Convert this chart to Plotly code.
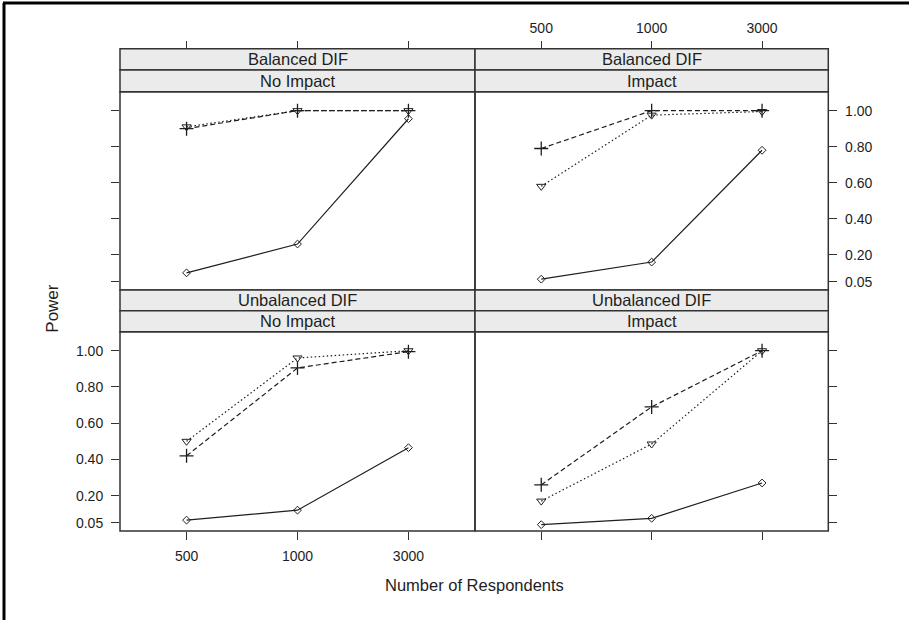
import plotly.graph_objects as go

W, H = 909, 620

# ---- data ----
sizes = ["500", "1000", "3000"]
dif_types = ["Balanced DIF", "Balanced DIF", "Unbalanced DIF", "Unbalanced DIF"]
impact_types = ["No Impact", "Impact", "No Impact", "Impact"]

# solid line, diamond markers
series_a = [
    [0.10, 0.26, 0.955],
    [0.065, 0.16, 0.78],
    [0.065, 0.12, 0.465],
    [0.04, 0.075, 0.27],
]
# dashed line, plus markers
series_b = [
    [0.90, 1.00, 1.00],
    [0.79, 1.00, 1.00],
    [0.42, 0.905, 0.995],
    [0.26, 0.69, 1.00],
]
# dotted line, triangle markers
series_c = [
    [0.91, 1.00, 1.00],
    [0.58, 0.975, 0.995],
    [0.50, 0.96, 1.00],
    [0.17, 0.485, 1.00],
]
y_tickvals = [0.05, 0.20, 0.40, 0.60, 0.80, 1.00]
y_ticktext = ["0.05", "0.20", "0.40", "0.60", "0.80", "1.00"]

# ---- layout geometry (pixels) ----
def px(x):
    return x / W

def py(y):
    return 1 - y / H

col_x = [(120, 475), (475, 828.3)]
row_plot = [(91.7, 290), (331.7, 531)]
row_strip = [(48.7, 70, 91.7), (290, 310.7, 331.7)]

FONT = "Liberation Sans, Arial, sans-serif"
INK = "#1e1e1e"
FRAME = "#333333"
TICKFONT = dict(size=14, color=INK, family=FONT)

fig = go.Figure()
layout = dict(
    width=W, height=H,
    margin=dict(l=0, r=0, t=0, b=0),
    paper_bgcolor="white", plot_bgcolor="white",
    showlegend=False,
    font=dict(family=FONT, color=INK, size=14),
)
shapes = []
annotations = []

for i in range(4):
    r, c = divmod(i, 2)
    n = i + 1
    xa = "x" if n == 1 else f"x{n}"
    ya = "y" if n == 1 else f"y{n}"
    xkey = "xaxis" if n == 1 else f"xaxis{n}"
    ykey = "yaxis" if n == 1 else f"yaxis{n}"
    x0, x1 = col_x[c]
    y0, y1 = row_plot[r]

    common = dict(xaxis=xa, yaxis=ya, mode="lines+markers", hoverinfo="skip")
    fig.add_trace(go.Scatter(x=sizes, y=series_b[i],
                             line=dict(color=INK, width=1.2, dash="5px,3px"),
                             marker=dict(symbol="cross-thin", size=10,
                                         line=dict(color=INK, width=1.3)),
                             **common))
    fig.add_trace(go.Scatter(x=sizes, y=series_c[i],
                             line=dict(color=INK, width=1.2, dash="1.5px,2.5px"),
                             marker=dict(symbol="triangle-down-open", size=8,
                                         color=INK, line=dict(color=INK, width=1)),
                             **common))
    fig.add_trace(go.Scatter(x=sizes, y=series_a[i],
                             line=dict(color=INK, width=1.2),
                             marker=dict(symbol="diamond-open", size=6,
                                         color=INK, line=dict(color=INK, width=1)),
                             **common))

    # x axis
    xa_cfg = dict(domain=[px(x0), px(x1)], type="category", range=[-0.6, 2.6],
                  showgrid=False, zeroline=False, showline=False,
                  ticks="outside", ticklen=8, tickwidth=1.3, tickcolor=FRAME,
                  tickfont=TICKFONT, fixedrange=True)
    if r == 0:
        xa_cfg.update(anchor="free", position=py(row_strip[0][0]), side="top",
                      showticklabels=(c == 1), ticklabelstandoff=2)
    else:
        xa_cfg.update(anchor=ya, side="bottom", showticklabels=(c == 0),
                      ticklabelstandoff=4)
    layout[xkey] = xa_cfg

    # y axis
    ya_cfg = dict(domain=[py(y1), py(y0)], range=[0.005, 1.105],
                  tickvals=y_tickvals, ticktext=y_ticktext,
                  showgrid=False, zeroline=False, showline=False,
                  ticks="outside", ticklen=8, tickwidth=1.3, tickcolor=FRAME,
                  tickfont=TICKFONT, anchor=xa, fixedrange=True,
                  ticklabelstandoff=5)
    if r == 0:
        ya_cfg.update(side="left" if c == 0 else "right", showticklabels=(c == 1))
    else:
        ya_cfg.update(side="left" if c == 0 else "right", showticklabels=(c == 0))
    layout[ykey] = ya_cfg

    # panel border
    shapes.append(dict(type="rect", xref="paper", yref="paper",
                       x0=px(x0), x1=px(x1), y0=py(y1), y1=py(y0),
                       line=dict(color=FRAME, width=1.5), layer="above"))
    # strips
    s0, s1, s2 = row_strip[r]
    for (ta, tb, txt) in [(s0, s1, dif_types[i]), (s1, s2, impact_types[i])]:
        shapes.append(dict(type="rect", xref="paper", yref="paper",
                           x0=px(x0), x1=px(x1), y0=py(tb), y1=py(ta),
                           fillcolor="#ebebeb", line=dict(color=FRAME, width=1.5),
                           layer="above"))
        annotations.append(dict(text=txt, xref="paper", yref="paper",
                                x=px((x0 + x1) / 2), y=py((ta + tb) / 2),
                                xanchor="center", yanchor="middle", showarrow=False,
                                font=dict(size=16.5, color=INK, family=FONT)))

# axis titles
annotations.append(dict(text="Number of Respondents", xref="paper", yref="paper",
                        x=px(474), y=py(585), xanchor="center", yanchor="middle",
                        showarrow=False, font=dict(size=16.5, color=INK, family=FONT)))
annotations.append(dict(text="Power", xref="paper", yref="paper",
                        x=px(51.7), y=py(308), xanchor="center", yanchor="middle",
                        textangle=-90, showarrow=False,
                        font=dict(size=17, color=INK, family=FONT)))

# outer frame (top and left edges)
shapes.append(dict(type="line", xref="paper", yref="paper",
                   x0=px(3), x1=1, y0=py(3), y1=py(3),
                   line=dict(color="black", width=3)))
shapes.append(dict(type="line", xref="paper", yref="paper",
                   x0=px(4), x1=px(4), y0=py(3), y1=0,
                   line=dict(color="black", width=3)))

layout["shapes"] = shapes
layout["annotations"] = annotations
fig.update_layout(**layout)
fig.write_html("out.html", config={"displayModeBar": False},
               post_script="document.body.style.margin='0';document.body.style.overflow='hidden';")
